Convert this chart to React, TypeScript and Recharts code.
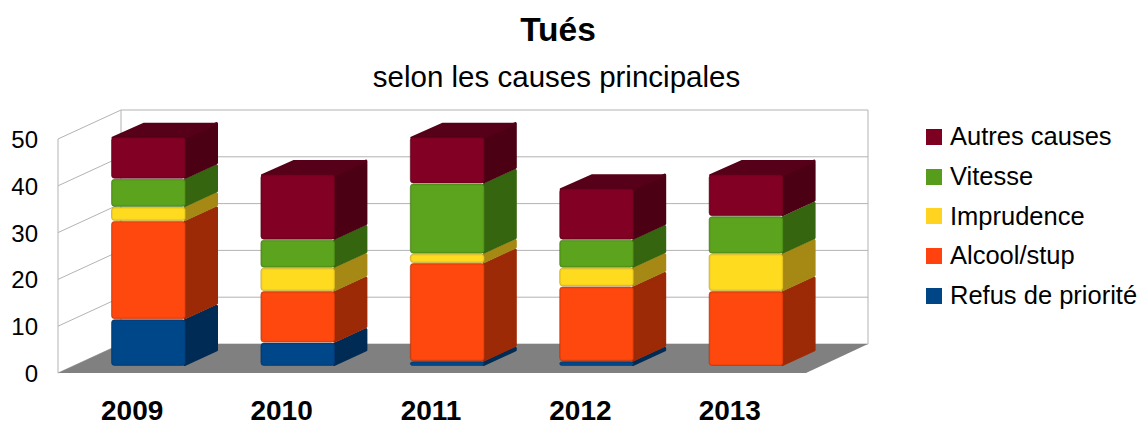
import React from "react";
import { BarChart, Bar, XAxis, YAxis, CartesianGrid, Legend } from "recharts";

const FONT = "'Liberation Sans', Arial, sans-serif";
const years = ["2009", "2010", "2011", "2012", "2013"];
const refus = [10, 5, 1, 1, 0];
const alcool = [21, 11, 21, 16, 16];
const imprudence = [3, 5, 2, 4, 8];
const vitesse = [6, 6, 15, 6, 8];
const autres = [9, 14, 10, 11, 9];
const yTicks = [0, 10, 20, 30, 40, 50];

const seriesDefs = [
  { key: "refus", name: "Refus de priorité", swatch: "#004586", front: "#00478a", side: "#002b54", values: refus },
  { key: "alcool", name: "Alcool/stup", swatch: "#ff420e", front: "#ff480e", side: "#9c2a06", values: alcool },
  { key: "imprudence", name: "Imprudence", swatch: "#ffd320", front: "#ffdb20", side: "#a58914", values: imprudence },
  { key: "vitesse", name: "Vitesse", swatch: "#579d1c", front: "#5ca41d", side: "#36650f", values: vitesse },
  { key: "autres", name: "Autres causes", swatch: "#7e0021", front: "#820024", side: "#4c0014", values: autres },
];

const rows = years.map((year, i) => {
  const row: Record<string, string | number> = { year };
  seriesDefs.forEach((s) => (row[s.key] = s.values[i]));
  return row;
});

const DX = 32;
const DY = -14.5;
const WALL = "#b3b3b3";
const PLOT_LEFT = 74;
const PLOT_RIGHT = 821;
const PLOT_TOP = 132;
const PLOT_BOTTOM = 366;

const makeShape = (def: (typeof seriesDefs)[number], isTop: boolean) => (props: any) => {
  const { x, y, width: w, height: h } = props;
  if (!h || h <= 0) return null;
  const i = Math.min(1.5, h / 3);
  const side = `M${x + w - 1},${y + i} L${x + w + DX - i},${y + DY + i} L${x + w + DX - i},${y + h + DY - i} L${x + w - 1},${y + h - i} Z`;
  const top = `M${x + i},${y + 1} L${x + DX + 1},${y + DY + i} L${x + w + DX - i},${y + DY + i} L${x + w},${y + 1} Z`;
  return (
    <g>
      <path d={side} fill={def.side} stroke={def.side} strokeWidth={i * 2} strokeLinejoin="round" />
      {isTop && <path d={top} fill="#560019" stroke="#560019" strokeWidth={2} strokeLinejoin="round" />}
      <rect x={x + 0.5} y={y + 0.5} width={w - 1} height={Math.max(h - 1, 0.5)} rx={3} fill={def.front} stroke={def.side} strokeOpacity={0.5} />
      {h > 5 && (
        <rect x={x + 1.5} y={y + 1.5} width={w - 3} height={h - 3} rx={2} fill="none" stroke={def.side} strokeOpacity={0.14} />
      )}
    </g>
  );
};

const gridLine = (props: any) => {
  const { x1, x2, y1, index } = props;
  return (
    <polyline
      key={`grid-${index}-${y1}`}
      points={`${x1 - 16},${y1 + 7} ${x1 + 47},${y1 - 22} ${x2 + 47},${y1 - 22}`}
      fill="none"
      stroke={WALL}
      strokeWidth={1}
    />
  );
};

const wallsAndFloor = (plotLeft: number, plotRight: number, top: number, bottom: number) => (
  <g>
    <polyline points={`${plotLeft - 16},${bottom + 7} ${plotLeft - 16},${top + 7}`} stroke={WALL} fill="none" />
    <polyline points={`${plotLeft + 47},${bottom - 22} ${plotLeft + 47},${top - 22}`} stroke={WALL} fill="none" />
    <polyline points={`${plotRight + 47},${bottom - 22} ${plotRight + 47},${top - 22}`} stroke={WALL} fill="none" />
    <polygon
      points={`${plotLeft - 16},${bottom + 7} ${plotLeft + 47},${bottom - 22} ${plotRight + 47},${bottom - 22} ${plotRight - 15},${bottom + 7}`}
      fill="#808080"
    />
  </g>
);

const YTick = ({ y, payload }: any) => (
  <text x={38} y={y + 16} textAnchor="end" fontFamily={FONT} fontSize={24} fill="#000">
    {payload.value}
  </text>
);

const XTick = ({ x, payload }: any) => (
  <text x={x - 16.5} y={420} textAnchor="middle" fontFamily={FONT} fontSize={28} fontWeight="bold" fill="#000">
    {payload.value}
  </text>
);

const legendRows = [...seriesDefs].reverse();

const LegendBox = () => (
  <div style={{ position: "absolute", left: 926 - PLOT_RIGHT, top: 0 }}>
    {legendRows.map((s) => (
      <div key={s.key} style={{ display: "flex", alignItems: "center", height: 39.7, fontFamily: FONT, fontSize: 25.5, color: "#000", whiteSpace: "nowrap" }}>
        <span style={{ width: 16, height: 16, background: s.swatch, marginRight: 8, display: "inline-block" }} />
        {s.name}
      </div>
    ))}
  </div>
);

export default function App() {
  return (
    <div style={{ position: "absolute", left: 0, top: 0, width: 1139, height: 421 }}>
      <BarChart
        width={1139}
        height={421}
        data={rows}
        margin={{ top: PLOT_TOP, right: 0, bottom: 10, left: 0 }}
      >
        <text x={558} y={41} textAnchor="middle" fontFamily={FONT} fontSize={33.5} fontWeight="bold" fill="#000">
          Tués
        </text>
        <text x={556.5} y={87} textAnchor="middle" fontFamily={FONT} fontSize={29.5} fill="#000">
          selon les causes principales
        </text>
        {wallsAndFloor(PLOT_LEFT, PLOT_RIGHT, PLOT_TOP, PLOT_BOTTOM)}
        <CartesianGrid vertical={false} horizontal={gridLine as any} />
        <XAxis dataKey="year" axisLine={false} tickLine={false} tick={<XTick />} height={45} interval={0} />
        <YAxis domain={[0, 50]} ticks={yTicks} axisLine={false} tickLine={false} tick={<YTick />} width={PLOT_LEFT} />
        <Legend layout="vertical" align="right" verticalAlign="top" width={1139 - PLOT_RIGHT} wrapperStyle={{ top: 117 }} content={<LegendBox />} />
        {seriesDefs.map((s, i) => (
          <Bar
            key={s.key}
            dataKey={s.key}
            name={s.name}
            stackId="a"
            fill={s.swatch}
            barSize={75}
            isAnimationActive={false}
            shape={makeShape(s, i === seriesDefs.length - 1)}
          />
        ))}
      </BarChart>
    </div>
  );
}
